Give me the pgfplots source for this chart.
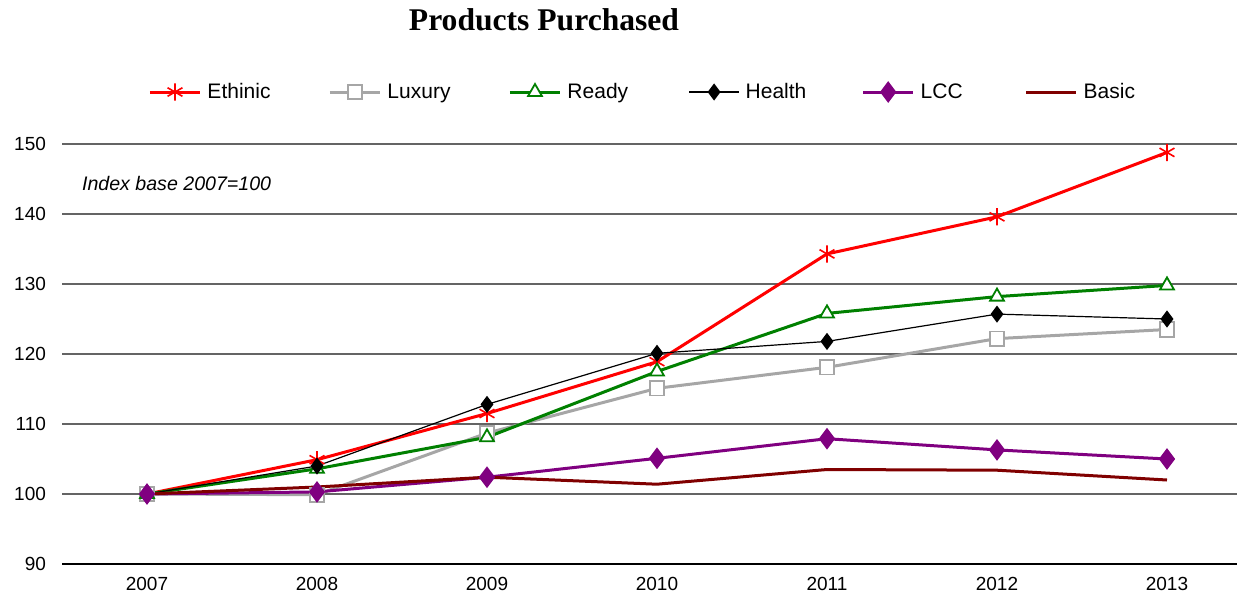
\documentclass[border=0pt]{standalone}
\usepackage{fontspec}
\setmainfont{Liberation Sans}
\newfontfamily\titlefont{Liberation Serif}
\usepackage{pgfplots}
\pgfplotsset{compat=1.18}
\definecolor{cEth}{RGB}{255,0,0}
\definecolor{cLux}{RGB}{166,166,166}
\definecolor{cRdy}{RGB}{0,128,0}
\definecolor{cLCC}{RGB}{128,0,128}
\definecolor{cBas}{RGB}{128,0,0}
\definecolor{cGrid}{RGB}{100,100,100}
\begin{document}
\begin{tikzpicture}[x=1pt,y=1pt]
\useasboundingbox (0,0) rectangle (618.5,298);
\begin{axis}[
  at={(31pt,16pt)}, anchor=south west,
  scale only axis, width=595pt, height=210pt,
  xmin=0, xmax=7, ymin=90, ymax=150,
  axis line style={draw=none},
  xtick={0.5,1.5,2.5,3.5,4.5,5.5,6.5},
  xticklabels={2007,2008,2009,2010,2011,2012,2013},
  ytick={90,100,110,120,130,140,150},
  ymajorgrids, grid style={cGrid, line width=0.6pt},
  xtick pos=bottom,
  major x tick style={draw=none},
  y tick style={draw=none},
  extra x ticks={0,1,2,3,4,5,6,7},
  extra x tick labels={},
  extra x tick style={grid=none, tick align=outside, major tick length=4pt, tick style={draw=black, line width=0.6pt}},
  tick label style={font=\fontsize{9.5}{11}\selectfont},
  /pgf/number format/assume math mode=true,
  yticklabel style={xshift=-4.5pt},
  xticklabel style={yshift=-3pt},
  legend columns=6,
  legend style={draw=none, at={(0.0673,1.1238)}, anchor=west,
    font=\fontsize{10.5}{12}\selectfont,
    nodes={text width=58.5pt, align=left, inner xsep=2pt, text height=1.6ex, text depth=0.45ex},
    /tikz/every odd column/.append style={column sep=1pt}},
  legend image code/.code={\draw[mark repeat=2,mark phase=2,#1] plot coordinates {(0pt,0pt) (12.5pt,0pt) (25pt,0pt)};},
]
\draw[black, line width=0.8pt] (axis cs:0,90) -- (axis cs:7,90);
\addplot[cEth, line width=1.5pt, mark=asterisk, mark size=4.3pt, mark options={line width=0.8pt}]
  coordinates {(0.5,100) (1.5,104.9) (2.5,111.5) (3.5,118.9) (4.5,134.3) (5.5,139.6) (6.5,148.8)};
\addlegendentry{Ethinic}
\addplot[cLux, line width=1.5pt, mark=square*, mark size=3.6pt, mark options={fill=white, draw=cLux, line width=0.9pt}]
  coordinates {(0.5,100) (1.5,99.9) (2.5,108.7) (3.5,115.1) (4.5,118.1) (5.5,122.2) (6.5,123.5)};
\addlegendentry{Luxury}
\addplot[cRdy, line width=1.5pt, mark=triangle*, mark size=4pt, mark options={fill=white, draw=cRdy, line width=0.9pt}]
  coordinates {(0.5,100) (1.5,103.6) (2.5,108.1) (3.5,117.5) (4.5,125.8) (5.5,128.2) (6.5,129.8)};
\addlegendentry{Ready}
\addplot[black, line width=0.6pt, mark=diamond*, mark size=3.8pt, mark options={fill=black}]
  coordinates {(0.5,100) (1.5,104.0) (2.5,112.8) (3.5,120.1) (4.5,121.8) (5.5,125.7) (6.5,125.0)};
\addlegendentry[text width=56pt]{Health}
\addplot[cLCC, line width=1.5pt, mark=diamond*, mark size=4.2pt, mark options={fill=cLCC}]
  coordinates {(0.5,100) (1.5,100.3) (2.5,102.4) (3.5,105.1) (4.5,107.9) (5.5,106.3) (6.5,105.0)};
\addlegendentry[text width=50pt]{LCC}
\addplot[cBas, line width=1.5pt]
  coordinates {(0.5,100) (1.5,101.0) (2.5,102.4) (3.5,101.4) (4.5,103.5) (5.5,103.4) (6.5,102.0)};
\addlegendentry{Basic}
\end{axis}
\node[anchor=west, font=\itshape\fontsize{9.8}{12}\selectfont] at (37.5pt,206.5pt) {Index base 2007=100};
\node[font=\titlefont\bfseries\fontsize{15.8}{18}\selectfont] at (272pt,288pt) {Products Purchased};
\end{tikzpicture}
\end{document}
